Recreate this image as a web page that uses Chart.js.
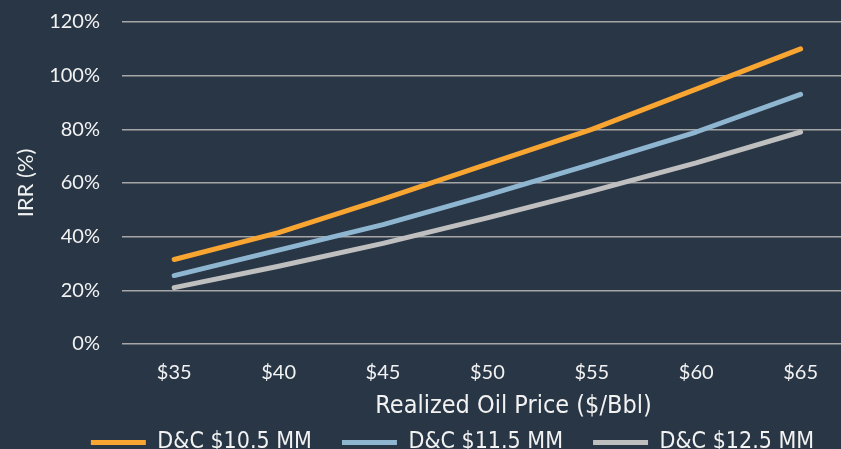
<!DOCTYPE html>
<html>
<head>
    <title>IRR Sensitivity</title>
    <script src="https://cdn.jsdelivr.net/npm/chart.js"></script>
    <style>
        * {
            box-sizing: border-box;
            margin: 0;
        }

        body {
            background: #283646;
            overflow: hidden;
        }

        .chart-wrap {
            width: 905px;
            height: 464px;
            position: relative;
        }
    </style>
</head>
<body>
    <div class="chart-wrap">
        <canvas id="irrChart"></canvas>
    </div>

    <script>
        // Realized oil price ($/Bbl) and IRR (%) per D&C cost case
        const prices = [35, 40, 45, 50, 55, 60, 65];
        const irrDc105 = [31.5, 41.5, 54, 67, 80, 95, 110];
        const irrDc115 = [25.5, 35, 44.5, 55.5, 67, 79, 93];
        const irrDc125 = [21, 29, 37.5, 47, 57, 67.5, 79];
        const caseLabels = ['D&C $10.5 MM', 'D&C $11.5 MM', 'D&C $12.5 MM'];
        const yTicks = [0, 20, 40, 60, 80, 100, 120];

        const colors = ['#f8a532', '#8fb6d0', '#bfbfbf'];
        const textColor = '#f2f2f2';
        const narrowFont = "'DejaVu Sans Condensed', 'DejaVu Sans', sans-serif";

        function toPoints(values) {
            return prices.map((p, i) => ({ x: p, y: values[i] }));
        }

        function makeDataset(label, values, color) {
            return {
                label: label,
                data: toPoints(values),
                borderColor: color,
                backgroundColor: color,
                borderWidth: 5,
                borderCapStyle: 'round',
                borderJoinStyle: 'round',
                pointRadius: 0,
                tension: 0
            };
        }

        const ctx = document.getElementById('irrChart').getContext('2d');

        new Chart(ctx, {
            type: 'line',
            data: {
                datasets: [
                    makeDataset(caseLabels[0], irrDc105, colors[0]),
                    makeDataset(caseLabels[1], irrDc115, colors[1]),
                    makeDataset(caseLabels[2], irrDc125, colors[2])
                ]
            },
            options: {
                responsive: true,
                maintainAspectRatio: false,
                animation: false,
                layout: {
                    padding: 0
                },
                plugins: {
                    tooltip: { enabled: false },
                    legend: {
                        position: 'bottom',
                        labels: {
                            color: textColor,
                            usePointStyle: true,
                            pointStyle: 'line',
                            pointStyleWidth: 55,
                            padding: 30,
                            font: { family: narrowFont, weight: 'condensed', size: 23 }
                        }
                    }
                },
                scales: {
                    x: {
                        type: 'linear',
                        min: 32.5,
                        max: 70,
                        afterBuildTicks: (axis) => {
                            axis.ticks = prices.map(v => ({ value: v }));
                        },
                        // legend padding is wide, so pull the legend up under the title
                        afterFit: (axis) => {
                            axis.height = 57;
                        },
                        grid: { display: false, drawTicks: false },
                        border: { display: false },
                        ticks: {
                            color: textColor,
                            padding: 17,
                            font: { family: 'Lato', size: 20 },
                            callback: (v) => '$' + v
                        },
                        title: {
                            display: true,
                            text: 'Realized Oil Price ($/Bbl)',
                            color: textColor,
                            padding: { top: 0, bottom: -20 },
                            font: { family: narrowFont, weight: 'condensed', size: 25 }
                        }
                    },
                    y: {
                        min: 0,
                        max: 120,
                        afterBuildTicks: (axis) => {
                            axis.ticks = yTicks.map(v => ({ value: v }));
                        },
                        afterFit: (axis) => {
                            axis.width = 122;
                            axis.paddingTop = 22;
                            axis.paddingBottom = 0;
                        },
                        grid: {
                            color: '#a6a6a6',
                            lineWidth: 1.5,
                            drawTicks: false
                        },
                        border: { display: false },
                        ticks: {
                            color: textColor,
                            padding: 22,
                            font: { family: 'Lato', size: 20 },
                            callback: (v) => v + '%'
                        },
                        title: {
                            display: true,
                            text: 'IRR (%)',
                            color: textColor,
                            padding: { top: 13, bottom: 0 },
                            font: { family: 'Lato', size: 22 }
                        }
                    }
                }
            }
        });
    </script>
</body>
</html>
